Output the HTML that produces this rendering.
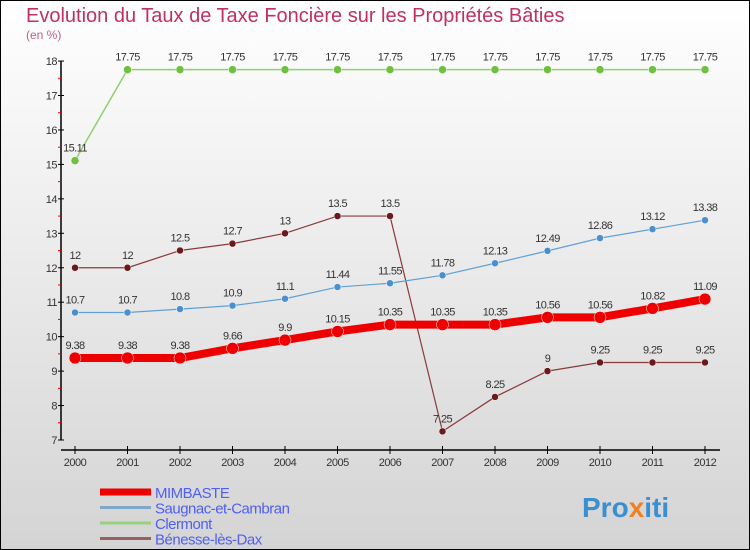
<!DOCTYPE html>
<html><head><meta charset="utf-8"><style>
body{margin:0}
#c{width:750px;height:550px;position:relative;overflow:hidden}
svg{display:block}
text{font-family:"Liberation Sans",sans-serif}
</style></head><body>
<div id="c">
<svg id="s" width="750" height="550" xmlns="http://www.w3.org/2000/svg">
<defs><linearGradient id="bg" x1="0" y1="0" x2="0" y2="1"><stop offset="0" stop-color="#ffffff"/><stop offset="1" stop-color="#d4d4d4"/></linearGradient></defs>
<rect x="0.5" y="0.5" width="749" height="549" fill="url(#bg)" stroke="#000"/>
<text x="26" y="22" font-size="20" fill="#c03060">Evolution du Taux de Taxe Foncière sur les Propriétés Bâties</text>
<text x="26" y="39" font-size="12" fill="#c06080">(en %)</text>
<g id="axes"></g>
<g id="series"></g>
<g id="legend"></g>
<text x="582" y="517" font-size="28" font-weight="bold" fill="#3a8fd0">Pro<tspan fill="#f08020">x</tspan>iti</text>
</svg>
</div>
<script>
const years=[2000,2001,2002,2003,2004,2005,2006,2007,2008,2009,2010,2011,2012];
const yTicks=[7,8,9,10,11,12,13,14,15,16,17,18];
const mimbaste=[9.38,9.38,9.38,9.66,9.9,10.15,10.35,10.35,10.35,10.56,10.56,10.82,11.09];
const saugnac=[10.7,10.7,10.8,10.9,11.1,11.44,11.55,11.78,12.13,12.49,12.86,13.12,13.38];
const clermont=[15.11,17.75,17.75,17.75,17.75,17.75,17.75,17.75,17.75,17.75,17.75,17.75,17.75];
const benesse=[12,12,12.5,12.7,13,13.5,13.5,7.25,8.25,9,9.25,9.25,9.25];
const seriesNames=["MIMBASTE","Saugnac-et-Cambran","Clermont","Bénesse-lès-Dax"];
const NS="http://www.w3.org/2000/svg";
function x(i){return 75+i*52.5;}
function y(v){return 440-(v-7)*34.45;}
function mk(tag,attrs,parent){const e=document.createElementNS(NS,tag);for(const k in attrs)e.setAttribute(k,attrs[k]);parent.appendChild(e);return e;}
const ax=document.getElementById('axes');
let l=mk('line',{x1:61,y1:61,x2:61,y2:440,stroke:'#000','stroke-width':1.5},ax);


l=mk('line',{x1:61,y1:450,x2:720,y2:450,stroke:'#000','stroke-width':1.5},ax);


yTicks.forEach(v=>{
 const t=mk('line',{x1:58,y1:y(v),x2:64,y2:y(v),stroke:'#000'},ax);
 
 
 if(v<18){const r=mk('line',{x1:58,y1:y(v+0.5),x2:61,y2:y(v+0.5),stroke:'#e00'},ax);
 
 }
 const tx=mk('text',{x:57,y:y(v)+4,'font-size':11,'text-anchor':'end',fill:'#333','letter-spacing':'-0.5'},ax);
 tx.textContent=v;
 
 
});
years.forEach((yr,i)=>{
 const t=mk('line',{x1:x(i),y1:446,x2:x(i),y2:454,stroke:'#000'},ax);
 
 
 const tx=mk('text',{x:x(i),y:466,'font-size':11,'text-anchor':'middle',fill:'#333','letter-spacing':'-0.5'},ax);
 tx.textContent=yr;
 
 
});
const sg=document.getElementById('series');
function draw(data,color,width,r,dot,name){
 const g=mk('g',{},sg);
 
 
 const p=mk('polyline',{points:data.map((v,i)=>x(i)+','+y(v)).join(' '),fill:'none',stroke:color,'stroke-width':width,'stroke-linejoin':'round'},g);
 
 
 data.forEach((v,i)=>{
  const c=mk('circle',{cx:x(i),cy:y(v),r:r,fill:dot,stroke:'#fff','stroke-width':0.5},g);
  
  
  const t=mk('text',{x:x(i),y:y(v)-9,'font-size':11,'text-anchor':'middle',fill:'#333','letter-spacing':'-0.6'},g);
  t.textContent=String(v);
  
  
 });
}
draw(clermont,'#90d070',1.5,4,'#70c040','clermont');
draw(benesse,'#8a3a3a',1.2,3.5,'#6a1a1a','benesse');
draw(saugnac,'#60a0d8',1.2,3.5,'#4a90d0','saugnac');
draw(mimbaste,'#ee0000',8,6,'#ee0000','mimbaste');
const lg=document.getElementById('legend');
const lc=['#ee0000','#80a8c8','#98d080','#986060'],lw=[7,3,3,3];
seriesNames.forEach((n,i)=>{
 const yy=492+i*15.5;
 const ln=mk('line',{x1:100,y1:yy,x2:151,y2:yy,stroke:lc[i],'stroke-width':lw[i]},lg);
 
 
 const t=mk('text',{x:155,y:yy+6,'font-size':15,fill:'#5060f0','letter-spacing':'-0.5'},lg);
 t.textContent=n;
 
 
});
</script>
</body></html>
